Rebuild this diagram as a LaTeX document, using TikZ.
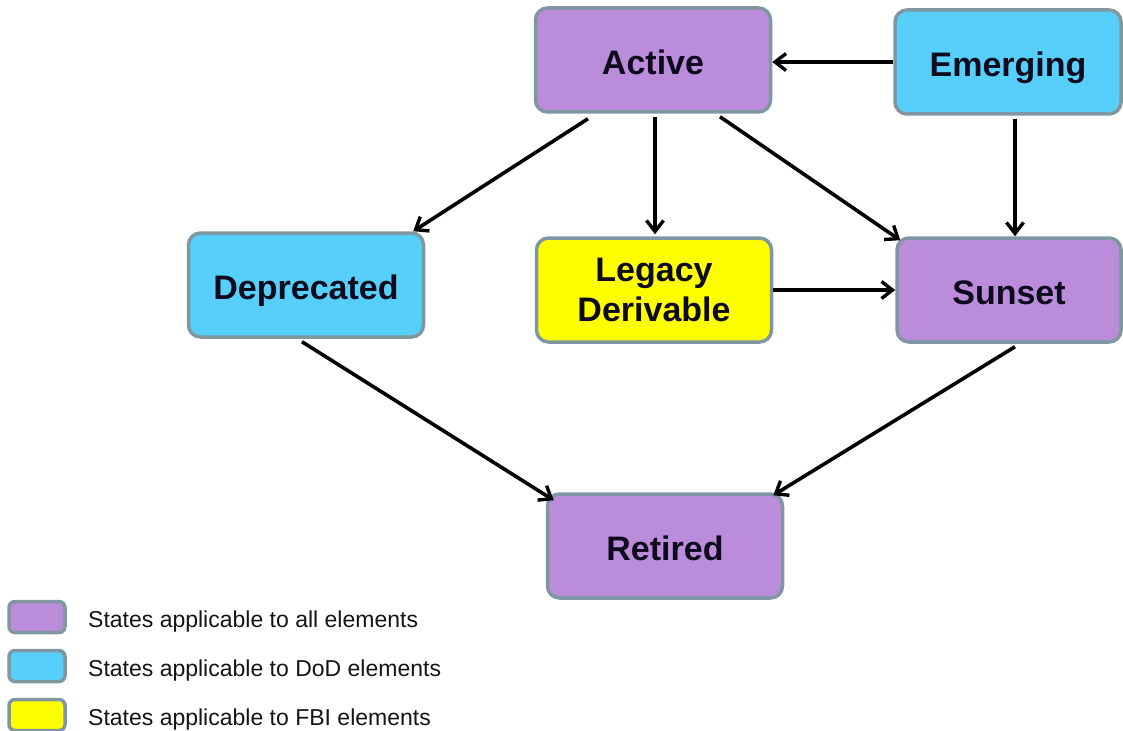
\documentclass[tikz,border=0pt]{standalone}
\usepackage{fontspec}
\setmainfont{Liberation Sans}
\usetikzlibrary{arrows.meta,calc}
\definecolor{purp}{RGB}{186,140,218}
\definecolor{cyanbox}{RGB}{86,208,250}
\definecolor{yelbox}{RGB}{255,255,0}
\definecolor{edge}{RGB}{128,150,160}
\definecolor{txt}{RGB}{14,10,30}
\begin{document}
\begin{tikzpicture}[x=1pt,y=-1pt,
  state/.style={draw=edge, line width=3.5pt, rounded corners=12pt, minimum width=235pt, minimum height=104pt,
     inner sep=0pt, align=center, text=txt, font=\fontsize{34}{40}\selectfont\bfseries},
  oneline/.style={text height=29pt, text depth=0pt},
  swatch/.style={draw=edge, line width=3.5pt, rounded corners=6pt, minimum width=56pt, minimum height=31pt, inner sep=0pt},
  legtext/.style={anchor=west, inner sep=0pt, font=\fontsize{23}{26}\selectfont, text=black!92},
  conn/.style={line width=3.6pt, -{Straight Barb[length=11pt,width=17pt,line width=3.4pt]}}]
\useasboundingbox (0,0) rectangle (1123,730);
\node[state, oneline, fill=purp] (act) at (653,60) {Active};
\node[state, oneline, fill=cyanbox, minimum width=226pt] (em) at (1008,62) {Emerging};
\node[state, oneline, fill=cyanbox] (dep) at (306,285) {Deprecated};
\node[state, fill=yelbox] (leg) at (654,290) {Legacy\\Derivable};
\node[state, oneline, fill=purp, minimum width=224pt] (sun) at (1009,290) {Sunset};
\node[state, oneline, fill=purp] (ret) at (665,546) {Retired};
% connectors
\draw[conn] (em.west) -- (em.west -| act.east);
\draw[conn] ($(act.south)+(-65,5)$) -- ($(dep.north east)+(-12,0)$);
\draw[conn] ($(act.south)+(2,3)$) -- ($(leg.north)+(1,-2)$);
\draw[conn] ($(act.south)+(67,3)$) -- ($(sun.north west)+(5,4)$);
\draw[conn] ($(em.south)+(7,3)$) -- ($(sun.north)+(6,0)$);
\draw[conn] (leg.east) -- (sun.west);
\draw[conn] ($(dep.south)+(-4,3)$) -- ($(ret.north west)+(8,8)$);
\draw[conn] ($(sun.south)+(6,3)$) -- ($(ret.north east)+(-11,3)$);
% legend
\node[swatch, fill=purp] (s1) at (37,617) {};
\node[swatch, fill=cyanbox] (s2) at (37,666) {};
\node[swatch, fill=yelbox] (s3) at (37,715) {};
\node[legtext] (l1) at (88,622) {States applicable to all elements};
\node[legtext] (l2) at (88,671) {States applicable to DoD elements};
\node[legtext] (l3) at (88,720) {States applicable to FBI elements};
\end{tikzpicture}
\end{document}
